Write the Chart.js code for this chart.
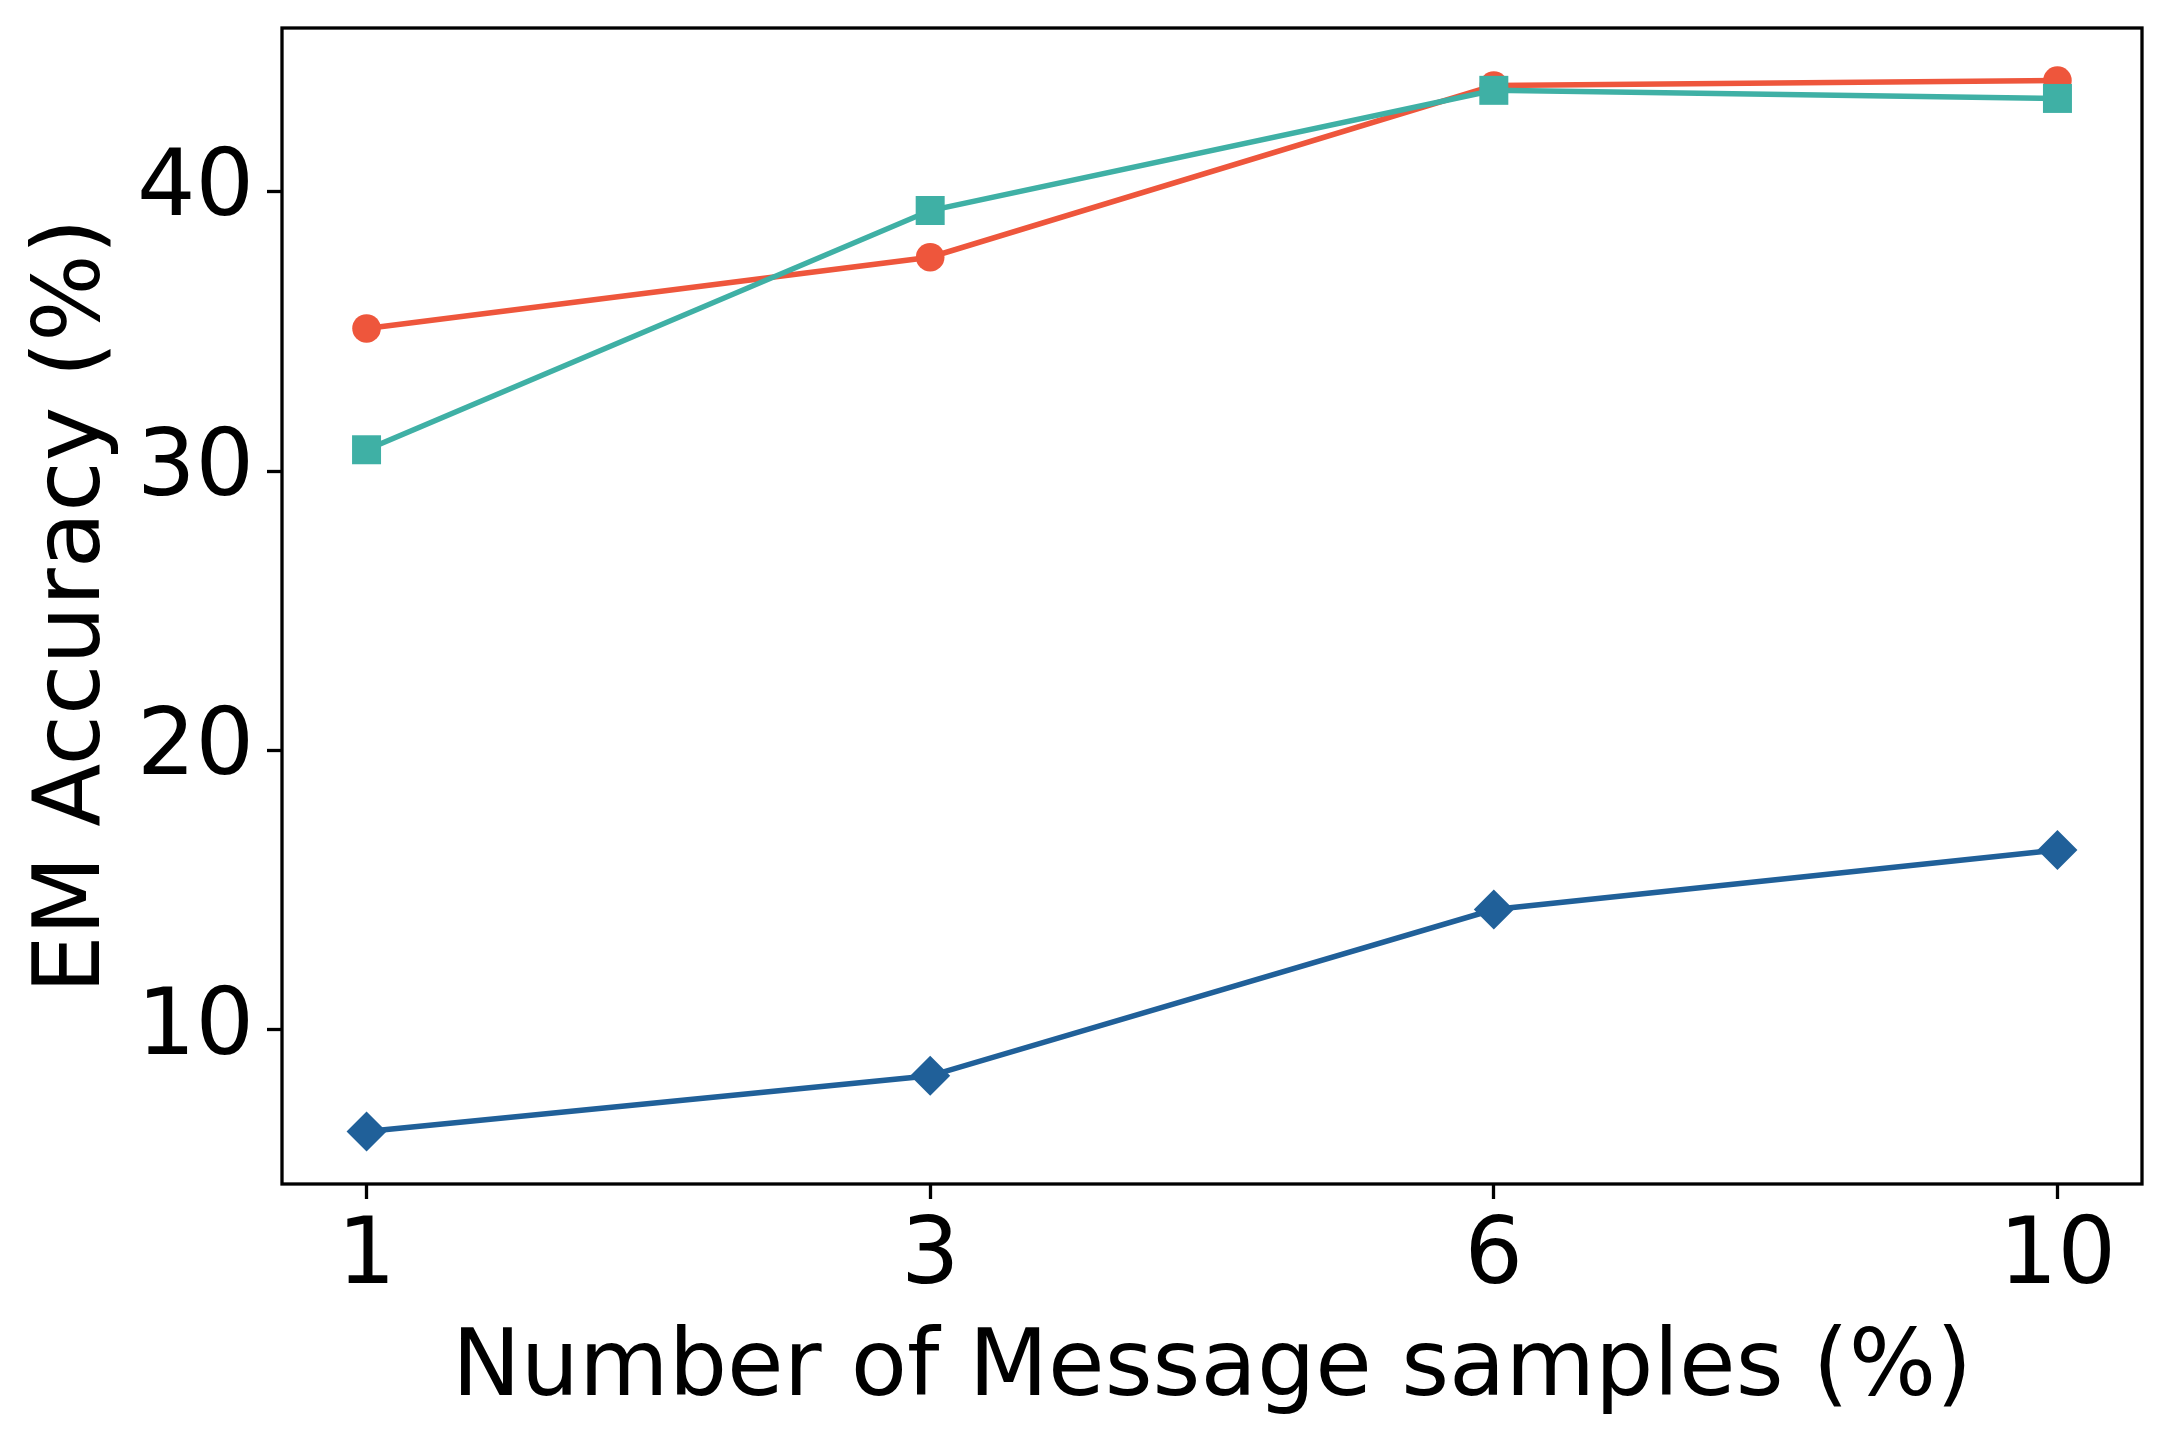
<!DOCTYPE html>
<html>
<head>
<meta charset="utf-8">
<script src="https://cdn.jsdelivr.net/npm/chart.js@4.4.1/dist/chart.umd.min.js"></script>
<style>
  html, body { margin: 0; padding: 0; background: #fff; }
  canvas { display: block; }
</style>
</head>
<body>
<canvas id="emChart" width="2172" height="1440"></canvas>
<script>
// values
const samples = ["1", "3", "6", "10"];
const yTicks = [10, 20, 30, 40];
const redSeries = [35.10, 37.65, 43.79, 43.97];   // circles
const tealSeries = [30.76, 39.32, 43.62, 43.33];  // squares
const blueSeries = [6.37, 8.36, 14.31, 16.44];    // diamonds

const RED = "rgb(238, 86, 60)";
const TEAL = "rgb(63, 176, 165)";
const BLUE = "rgb(32, 96, 153)";
const FONT = "'DejaVu Sans', sans-serif";

function toPoints(values) {
    return values.map((v, i) => ({ x: i, y: v }));
}

function makeSeries(values, color, style, radius) {
    return {
        data: toPoints(values),
        borderColor: color,
        backgroundColor: color,
        borderWidth: 5.5,
        tension: 0,
        pointStyle: style,
        pointRadius: radius,
        pointHoverRadius: radius,
        pointBorderWidth: 0,
        pointBackgroundColor: color,
        clip: false
    };
}

// full box frame round the plot area
const frame = {
    id: "frame",
    afterDraw(chart) {
        const a = chart.chartArea;
        const ctx = chart.ctx;
        ctx.save();
        ctx.strokeStyle = "#000";
        ctx.lineWidth = 3.3;
        ctx.strokeRect(a.left, a.top, a.right - a.left, a.bottom - a.top);
        ctx.restore();
    }
};

const ctx = document.getElementById("emChart").getContext("2d");

new Chart(ctx, {
    type: "line",
    data: {
        datasets: [
            makeSeries(tealSeries, TEAL, "rect", 20.5),
            makeSeries(redSeries, RED, "circle", 14.3),
            makeSeries(blueSeries, BLUE, "rectRot", 20)
        ]
    },
    options: {
        responsive: false,
        animation: false,
        events: [],
        layout: { padding: { top: 28, right: 30, left: 0, bottom: 0 } },
        plugins: {
            legend: { display: false },
            tooltip: { enabled: false }
        },
        scales: {
            x: {
                type: "linear",
                min: -0.15,
                max: 3.15,
                afterFit: scale => {
                    scale.height = 256;
                    scale.paddingLeft = 0;
                    scale.paddingRight = 0;
                },
                afterBuildTicks: scale => { scale.ticks = samples.map((s, i) => ({ value: i })); },
                border: { display: false },
                grid: {
                    drawOnChartArea: false,
                    drawTicks: true,
                    tickLength: 15,
                    tickWidth: 3.3,
                    tickColor: "#000"
                },
                ticks: {
                    color: "#000",
                    font: { family: FONT, size: 92 },
                    padding: 5,
                    maxRotation: 0,
                    callback: v => samples[v]
                },
                title: {
                    display: true,
                    text: "Number of Message samples (%)",
                    color: "#000",
                    font: { family: FONT, size: 92 },
                    padding: { top: 0, bottom: 14 }
                }
            },
            y: {
                min: 4.49,
                max: 45.85,
                afterFit: scale => {
                    scale.width = 282;
                    scale.paddingTop = 0;
                    scale.paddingBottom = 0;
                },
                afterBuildTicks: scale => { scale.ticks = yTicks.map(v => ({ value: v })); },
                border: { display: false },
                grid: {
                    drawOnChartArea: false,
                    drawTicks: true,
                    tickLength: 15,
                    tickWidth: 3.3,
                    tickColor: "#000"
                },
                ticks: {
                    color: "#000",
                    font: { family: FONT, size: 92 },
                    padding: 13
                },
                title: {
                    display: true,
                    text: "EM Accuracy (%)",
                    color: "#000",
                    font: { family: FONT, size: 92 },
                    padding: { top: 20, bottom: 0 }
                }
            }
        }
    },
    plugins: [frame]
});
</script>
</body>
</html>
